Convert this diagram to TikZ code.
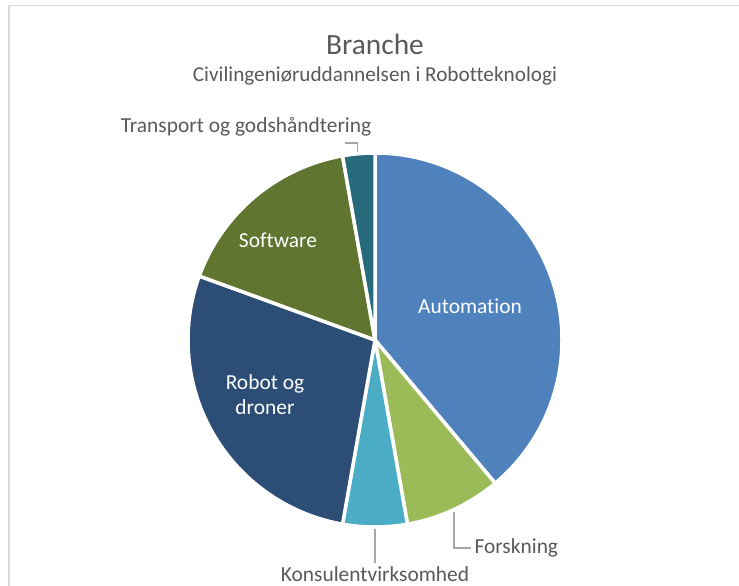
\documentclass[tikz,border=0pt]{standalone}
\usepackage{fontspec}
\setmainfont{Carlito}[Ligatures={NoCommon}]
\usetikzlibrary{positioning}

\definecolor{autoblue}{HTML}{4F81BD}
\definecolor{forskgreen}{HTML}{9BBB59}
\definecolor{konsaqua}{HTML}{4BACC6}
\definecolor{robotblue}{HTML}{2C4D75}
\definecolor{softgreen}{HTML}{5F7530}
\definecolor{transteal}{HTML}{276A7C}
\definecolor{textgrey}{HTML}{595959}
\definecolor{leadgrey}{HTML}{A6A6A6}
\definecolor{framegrey}{HTML}{D9D9D9}

\tikzset{
  slice/.style={draw=white, line width=3.5bp, line join=round},
  inlabel/.style={text=white, font=\fontsize{21.5}{25}\selectfont, align=center},
  outlabel/.style={text=textgrey, font=\fontsize{21.5}{25}\selectfont},
  leader/.style={draw=leadgrey, line width=1.2bp}
}

\begin{document}
\begin{tikzpicture}[x=1bp,y=1bp]
  \useasboundingbox (0,0) rectangle (739,586);
  \draw [framegrey, line width=1.5bp] (739,580.5) -- (9,580.5) -- (9,0);

  \node (title) [text=textgrey, font=\fontsize{29.5}{32}\selectfont] at (375,542) {Branche};
  \node (subtitle) [text=textgrey, font=\fontsize{21.3}{25}\selectfont] at (375,510) {Civilingeniøruddannelsen i Robotteknologi};

  \begin{scope}[shift={(375,246)}]
    % 36 answers, 10 degrees each
    \filldraw [slice, fill=autoblue]   (0,0) -- (90:187)  arc (90:-50:187)   -- cycle;
    \filldraw [slice, fill=forskgreen] (0,0) -- (-50:187) arc (-50:-80:187)  -- cycle;
    \filldraw [slice, fill=konsaqua]   (0,0) -- (-80:187) arc (-80:-100:187) -- cycle;
    \filldraw [slice, fill=robotblue]  (0,0) -- (260:187) arc (260:160:187)  -- cycle;
    \filldraw [slice, fill=softgreen]  (0,0) -- (160:187) arc (160:100:187)  -- cycle;
    \filldraw [slice, fill=transteal]  (0,0) -- (100:187) arc (100:90:187)   -- cycle;
  \end{scope}

  \node (automation) [inlabel] at (470,280) {Automation};
  \node (software) [inlabel] at (278,346) {Software};
  \node (robot) [inlabel] at (265,191) {Robot og\\droner};

  \node (transport) [outlabel] at (246,459) {Transport og godshåndtering};
  \node (forskning) [outlabel, anchor=west] at (471,38) {Forskning};
  \node (konsulent) [outlabel] at (375,12) {Konsulentvirksomhed};

  \coordinate (transstart) at (345,443);
  \coordinate (transtip) at (357.5,434);
  \coordinate (forsktip) at (454,74);
  \coordinate (konstip) at (375,57);
  \draw [leader] (transstart) -| (transtip);
  \draw [leader] (forsktip) |- (forskning.west);
  \draw [leader] (konstip) -- (konstip |- konsulent.north);
\end{tikzpicture}
\end{document}
